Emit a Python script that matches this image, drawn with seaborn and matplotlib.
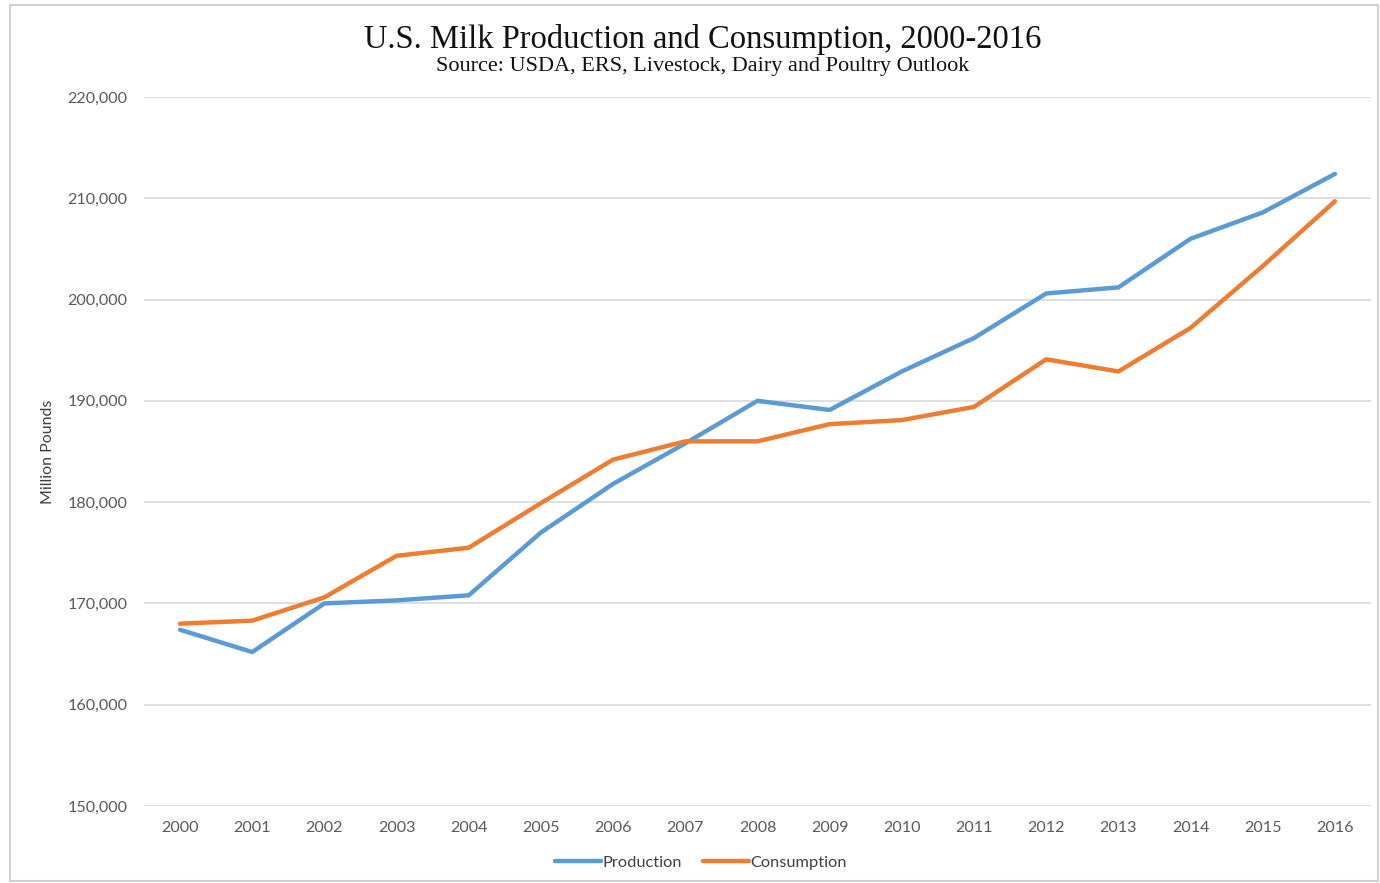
import numpy as np
import pandas as pd
import seaborn as sns
import matplotlib.pyplot as plt
import matplotlib.ticker as ticker
from matplotlib.patches import Rectangle

years = list(range(2000, 2017))
production = [167400, 165200, 170000, 170300, 170800, 177000, 181800, 185800, 190000,
              189100, 192900, 196200, 200600, 201200, 206000, 208600, 212400]
consumption = [168000, 168300, 170600, 174700, 175500, 179900, 184200, 186000, 186000,
               187700, 188100, 189400, 194100, 192900, 197200, 203300, 209700]

df = pd.DataFrame({'year': years * 2,
                   'value': production + consumption,
                   'series': ['Production'] * len(years) + ['Consumption'] * len(years)})

sns.set_style('white')
plt.rcParams['font.family'] = ['Lato', 'DejaVu Sans']

fig = plt.figure(figsize=(13.8, 8.83), dpi=100)
ax = fig.add_axes([0.1043, 0.0872, 0.8892, 0.8030])

sns.lineplot(data=df, x='year', y='value', hue='series',
             palette={'Production': '#5B9BD5', 'Consumption': '#ED7D31'},
             linewidth=3.2, ax=ax, legend=False)

ax.set_xlim(1999.5, 2016.5)
ax.set_ylim(150000, 220000)
ax.set_xticks(years)
ax.set_xticklabels([str(y) for y in years])
ax.yaxis.set_major_locator(ticker.MultipleLocator(10000))
ax.yaxis.set_major_formatter(ticker.FuncFormatter(lambda v, p: f'{int(v):,}'))
ax.grid(axis='y', color='#d9d9d9', linewidth=1.2)
ax.set_axisbelow(True)
for s in ax.spines.values():
    s.set_visible(False)
ax.tick_params(axis='both', length=0, labelsize=11.6, labelcolor='#595959')
ax.tick_params(axis='x', pad=11)
ax.tick_params(axis='y', pad=12)
ax.set_xlabel('')
ax.set_ylabel('Million Pounds', fontsize=11.5, color='#404040', labelpad=9)

fig.text(0.509, 0.955, 'U.S. Milk Production and Consumption, 2000-2016',
         family='Liberation Serif', fontsize=23.5, ha='center', va='center', color='#111111')
fig.text(0.509, 0.925, 'Source: USDA, ERS, Livestock, Dairy and Poultry Outlook',
         family='Liberation Serif', fontsize=16, ha='center', va='center', color='#111111')

handles = [plt.Line2D([], [], color='#5B9BD5', lw=3.2),
           plt.Line2D([], [], color='#ED7D31', lw=3.2)]
fig.legend(handles, ['Production', 'Consumption'], loc='center', ncol=2,
           bbox_to_anchor=(0.508, 0.023), frameon=False, fontsize=11.8,
           labelcolor='#404040', handlelength=2.8, handletextpad=0.1, columnspacing=1.3)

fig.patches.append(Rectangle((10 / 1380, 2 / 883), 1368 / 1380, 876 / 883,
                             transform=fig.transFigure, fill=False,
                             edgecolor='#d0d0d0', linewidth=1.5))

fig.savefig('out.png', dpi=100)
